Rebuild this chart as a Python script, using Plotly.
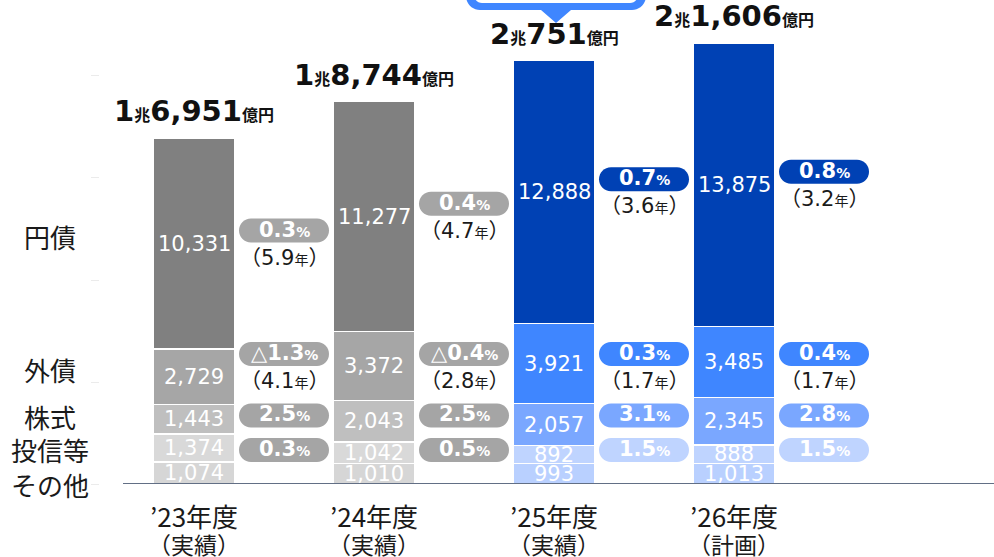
import plotly.graph_objects as go

# ---- data (億円) ----
categories = ["’23年度", "’24年度", "’25年度", "’26年度"]
sublabels = ["（実績）", "（実績）", "（実績）", "（計画）"]

yen_bonds = [10331, 11277, 12888, 13875]
foreign_bonds = [2729, 3372, 3921, 3485]
stocks = [1443, 2043, 2057, 2345]
funds = [1374, 1042, 892, 888]
others = [1074, 1010, 993, 1013]

# yields (%) and durations (years)
yield_yen = [0.3, 0.4, 0.7, 0.8]
dur_yen = [5.9, 4.7, 3.6, 3.2]
yield_foreign = [-1.3, -0.4, 0.3, 0.4]
dur_foreign = [4.1, 2.8, 1.7, 1.7]
yield_stocks = [2.5, 2.5, 3.1, 2.8]
yield_funds = [0.3, 0.5, 1.5, 1.5]

series_names = ["その他", "投信等", "株式", "外債", "円債"]
series_values = [others, funds, stocks, foreign_bonds, yen_bonds]

# ---- styling ----
GRAY = {"円債": "#808080", "外債": "#A6A6A6", "株式": "#BFBFBF", "投信等": "#D9D9D9", "その他": "#D6D6D6"}
BLUE = {"円債": "#0041B4", "外債": "#3F86FF", "株式": "#7AA7FF", "投信等": "#BFD4FF", "その他": "#B9D0FF"}
PILL_GRAY = "#A5A5A5"
PILL_BLUE = {"円債": "#0041B4", "外債": "#3F86FF", "株式": "#7AA7FF", "投信等": "#BFD4FF"}
is_blue = [False, False, True, True]

NUM_FONT = "DejaVu Sans, Noto Sans CJK JP"
JP_FONT = "Noto Sans CJK JP, DejaVu Sans"

W, H = 994, 557
ML, MB = 100, 73
Y_MAX = 23725
X_RANGE = [-0.5222, 4.4444]

n = len(categories)
xs = list(range(n))

fig = go.Figure()
for name, vals in zip(series_names, series_values):
    colors = [BLUE[name] if b else GRAY[name] for b in is_blue]
    fig.add_trace(go.Bar(
        x=xs, y=vals, name=name, width=0.45,
        marker=dict(color=colors, line=dict(color="white", width=1.5)),
        hoverinfo="skip", showlegend=False,
    ))

annotations = []
shapes = []

# segment values inside the bars
for i in xs:
    base = 0
    for name, vals in zip(series_names, series_values):
        v = vals[i]
        annotations.append(dict(
            x=i, y=base + v / 2, xref="x", yref="y", text=f"{v:,}", showarrow=False,
            font=dict(family=NUM_FONT, size=21, color="white"), yanchor="middle",
        ))
        base += v

# totals above the bars
totals = [sum(vals[i] for vals in series_values) for i in xs]
for i, t in enumerate(totals):
    cho, oku = divmod(t, 10000)
    txt = (f"<b>{cho}</b><b><span style='font-size:16px'>兆</span></b>"
           f"<b>{oku:,}</b><b><span style='font-size:16px'>億円</span></b>")
    annotations.append(dict(
        x=i, y=t, xref="x", yref="y", text=txt, showarrow=False, yanchor="middle",
        yshift=27, font=dict(family=NUM_FONT, size=29, color="#111111"),
    ))


def pill_path(dy=0, w=90, h=24):
    r = h / 2
    a = w / 2 - r
    k = 0.5523 * r
    t, b, m = dy + r, dy - r, dy
    return (f"M {-a},{t} L {a},{t} C {a + k},{t} {w / 2},{m + k} {w / 2},{m} "
            f"C {w / 2},{m - k} {a + k},{b} {a},{b} L {-a},{b} "
            f"C {-a - k},{b} {-w / 2},{m - k} {-w / 2},{m} C {-w / 2},{m + k} {-a - k},{t} {-a},{t} Z")


def fmt_yield(v):
    mark = "△" if v < 0 else ""
    return f"{mark}<b>{abs(v):.1f}</b><b><span style='font-size:14px'>%</span></b>"


def add_pill(x, y, color, value, shift=0):
    shapes.append(dict(
        type="path", xref="x", yref="y", xsizemode="pixel", ysizemode="pixel",
        xanchor=x, yanchor=y, path=pill_path(shift), fillcolor=color,
        line=dict(width=0), layer="above",
    ))
    annotations.append(dict(
        x=x, y=y, xref="x", yref="y", text=fmt_yield(value), showarrow=False,
        yanchor="middle", yshift=shift + 1, font=dict(family=NUM_FONT, size=21, color="white"),
    ))


def add_duration(x, y, years, shift):
    annotations.append(dict(
        x=x, y=y, xref="x", yref="y", showarrow=False, yanchor="middle", yshift=shift,
        text=f"（{years:.1f}<span style='font-size:14px'>年</span>）",
        font=dict(family=NUM_FONT, size=21, color="#1A1A1A"),
    ))


# fixed rows for the lower pills (data units)
ROW_FOREIGN = 6370
ROW_STOCKS = 3360
ROW_FUNDS = 1670

for i in xs:
    px = i + 0.5
    blue = is_blue[i]
    # yen bonds pill sits around the middle of its segment
    seg_lo = others[i] + funds[i] + stocks[i] + foreign_bonds[i]
    mid = seg_lo + yen_bonds[i] / 2
    add_pill(px, mid, PILL_BLUE["円債"] if blue else PILL_GRAY, yield_yen[i], shift=13)
    add_duration(px, mid, dur_yen[i], -14)

    add_pill(px, ROW_FOREIGN, PILL_BLUE["外債"] if blue else PILL_GRAY, yield_foreign[i])
    add_duration(px, ROW_FOREIGN, dur_foreign[i], -27)
    add_pill(px, ROW_STOCKS, PILL_BLUE["株式"] if blue else PILL_GRAY, yield_stocks[i])
    add_pill(px, ROW_FUNDS, PILL_BLUE["投信等"] if blue else PILL_GRAY, yield_funds[i])

# category labels under the axis
for i in xs:
    annotations.append(dict(x=i, y=0, xref="x", yref="paper", text=categories[i], showarrow=False,
                            yanchor="middle", yshift=-31,
                            font=dict(family=JP_FONT, size=26, color="#1A1A1A")))
    annotations.append(dict(x=i, y=0, xref="x", yref="paper", text=sublabels[i], showarrow=False,
                            yanchor="middle", yshift=-60,
                            font=dict(family=JP_FONT, size=23, color="#1A1A1A")))

# series labels on the left
LEFT_LABEL_Y = {"円債": 12110, "外債": 5590, "株式": 3330, "投信等": 1670, "その他": 0}
for name, yv in LEFT_LABEL_Y.items():
    annotations.append(dict(x=-0.056, y=yv, xref="paper", yref="y", text=name, showarrow=False,
                            xanchor="center", yanchor="middle",
                            font=dict(family=JP_FONT, size=26, color="#1A1A1A")))

# baseline
shapes.append(dict(type="line", xref="paper", yref="y", x0=0.0257, x1=1, y0=0, y1=0,
                   line=dict(color="#2E3F5C", width=1.5), layer="above"))

# speech-bubble callout over the '25 bar (upper part runs off the top edge)
shapes.append(dict(
    type="path", xref="x", yref="paper", xsizemode="pixel", ysizemode="pixel",
    xanchor=2, yanchor=1,
    path=("M -88,40 L -88,4 C -88,-3.7 -81.7,-10 -74,-10 L -13,-10 L 2,-23 L 17,-10 "
          "L 78,-10 C 85.7,-10 92,-3.7 92,4 L 92,40 Z"),
    fillcolor="#3F86FF", line=dict(width=0), layer="above",
))
shapes.append(dict(
    type="path", xref="x", yref="paper", xsizemode="pixel", ysizemode="pixel",
    xanchor=2, yanchor=1,
    path="M -80,40 L -80,5 C -80,0.6 -76.4,-3 -72,-3 L 76,-3 C 80.4,-3 84,0.6 84,5 L 84,40 Z",
    fillcolor="white", line=dict(width=0), layer="above",
))

fig.update_layout(
    barmode="stack",
    width=W, height=H,
    margin=dict(l=ML, r=0, t=0, b=MB, pad=0),
    plot_bgcolor="white", paper_bgcolor="white",
    xaxis=dict(range=X_RANGE, visible=False, fixedrange=True),
    yaxis=dict(range=[0, Y_MAX], showgrid=False, zeroline=False, showline=False,
               showticklabels=False, ticks="outside", ticklen=8, tickwidth=1,
               tickcolor="#EBEBEB", tickvals=[0, 5000, 10000, 15000, 20000], fixedrange=True),
    annotations=annotations,
    shapes=shapes,
    showlegend=False,
)

fig.write_html("out.html")
